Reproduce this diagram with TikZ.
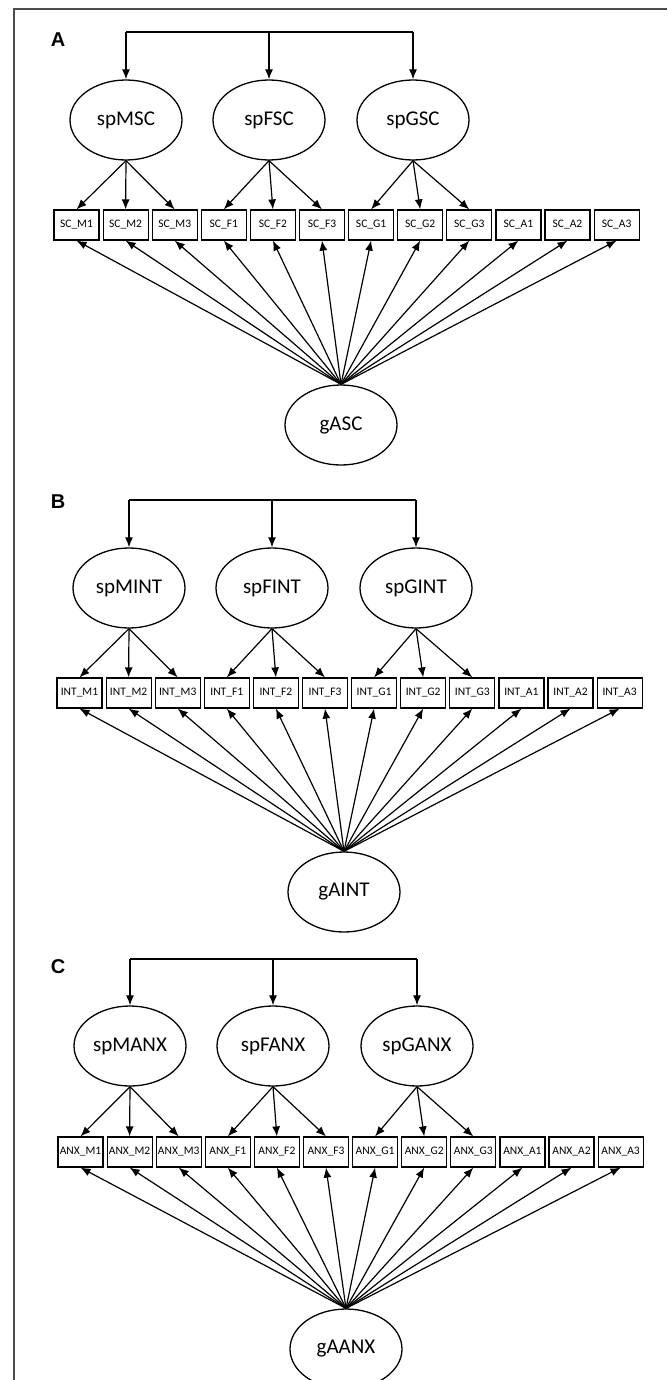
\documentclass[tikz,border=0pt]{standalone}
\usepackage{fontspec}
\newfontfamily\carlito{Carlito}
\newfontfamily\arialfont{Liberation Sans}
\usetikzlibrary{arrows.meta, positioning, shapes}

\tikzset{
  latent/.style={ellipse, draw, line width=1.3pt, minimum width=112pt, minimum height=80pt,
                 inner sep=0pt, font=\carlito\fontsize{21}{21}\selectfont},
  obs/.style={rectangle, draw, line width=1.2pt, minimum width=45pt, minimum height=30pt,
              inner sep=0pt, font=\carlito\fontsize{11.5}{11.5}\selectfont},
  panel/.style={font=\arialfont\bfseries\fontsize{20}{20}\selectfont},
}

\begin{document}
\begin{tikzpicture}[x=1pt, y=-1pt, ->, >={Latex[length=10pt,width=8pt]}, line width=1.2pt,
                    node distance=2.9pt]

   \useasboundingbox (0,0) rectangle (667,1380);
   \draw[-, line width=2pt, black!70] (14,1380) -- (14,9) -- (667,9);

   % ---------------- A ----------------
   % Nodes
      \node[panel]  (labA)  at (58,40)    {A};
      \coordinate   (topA)  at (269,32);
      \node[latent] (spMSC) at (126,120)  {spMSC};
      \node[latent] (spFSC) at (269,120)  {spFSC};
      \node[latent] (spGSC) at (413,120)  {spGSC};
      \node[obs]    (SC_M1) at (76.5,225) {SC\_M1};
      \node[obs, right=of SC_M1] (SC_M2) {SC\_M2};
      \node[obs, right=of SC_M2] (SC_M3) {SC\_M3};
      \node[obs, right=of SC_M3] (SC_F1) {SC\_F1};
      \node[obs, right=of SC_F1] (SC_F2) {SC\_F2};
      \node[obs, right=of SC_F2] (SC_F3) {SC\_F3};
      \node[obs, right=of SC_F3] (SC_G1) {SC\_G1};
      \node[obs, right=of SC_G1] (SC_G2) {SC\_G2};
      \node[obs, right=of SC_G2] (SC_G3) {SC\_G3};
      \node[obs, right=of SC_G3] (SC_A1) {SC\_A1};
      \node[obs, right=of SC_A1] (SC_A2) {SC\_A2};
      \node[obs, right=of SC_A2] (SC_A3) {SC\_A3};
      \node[latent] (gASC)  at (341,425)  {gASC};

   % Paths
      \draw[-] (spMSC.north |- topA) -- (spGSC.north |- topA);
      \path (spMSC.north |- topA) edge (spMSC.north);
      \path (topA) edge (spFSC.north);
      \path (spGSC.north |- topA) edge (spGSC.north);
      \path (spMSC.south) edge (SC_M1.north) edge (SC_M2.north) edge (SC_M3.north);
      \path (spFSC.south) edge (SC_F1.north) edge (SC_F2.north) edge (SC_F3.north);
      \path (spGSC.south) edge (SC_G1.north) edge (SC_G2.north) edge (SC_G3.north);
      \path (gASC.north) edge (SC_M1.south) edge (SC_M2.south) edge (SC_M3.south)
                         edge (SC_F1.south) edge (SC_F2.south) edge (SC_F3.south)
                         edge (SC_G1.south) edge (SC_G2.south) edge (SC_G3.south)
                         edge (SC_A1.south) edge (SC_A2.south) edge (SC_A3.south);

   % ---------------- B ----------------
   % Nodes
      \node[panel]  (labB)   at (58,502)   {B};
      \coordinate   (topB)   at (272,500);
      \node[latent] (spMINT) at (129,588)  {spMINT};
      \node[latent] (spFINT) at (272,588)  {spFINT};
      \node[latent] (spGINT) at (416,588)  {spGINT};
      \node[obs]    (INT_M1) at (79.5,693) {INT\_M1};
      \node[obs, right=of INT_M1] (INT_M2) {INT\_M2};
      \node[obs, right=of INT_M2] (INT_M3) {INT\_M3};
      \node[obs, right=of INT_M3] (INT_F1) {INT\_F1};
      \node[obs, right=of INT_F1] (INT_F2) {INT\_F2};
      \node[obs, right=of INT_F2] (INT_F3) {INT\_F3};
      \node[obs, right=of INT_F3] (INT_G1) {INT\_G1};
      \node[obs, right=of INT_G1] (INT_G2) {INT\_G2};
      \node[obs, right=of INT_G2] (INT_G3) {INT\_G3};
      \node[obs, right=of INT_G3] (INT_A1) {INT\_A1};
      \node[obs, right=of INT_A1] (INT_A2) {INT\_A2};
      \node[obs, right=of INT_A2] (INT_A3) {INT\_A3};
      \node[latent] (gAINT)  at (344,892)  {gAINT};

   % Paths
      \draw[-] (spMINT.north |- topB) -- (spGINT.north |- topB);
      \path (spMINT.north |- topB) edge (spMINT.north);
      \path (topB) edge (spFINT.north);
      \path (spGINT.north |- topB) edge (spGINT.north);
      \path (spMINT.south) edge (INT_M1.north) edge (INT_M2.north) edge (INT_M3.north);
      \path (spFINT.south) edge (INT_F1.north) edge (INT_F2.north) edge (INT_F3.north);
      \path (spGINT.south) edge (INT_G1.north) edge (INT_G2.north) edge (INT_G3.north);
      \path (gAINT.north) edge (INT_M1.south) edge (INT_M2.south) edge (INT_M3.south)
                          edge (INT_F1.south) edge (INT_F2.south) edge (INT_F3.south)
                          edge (INT_G1.south) edge (INT_G2.south) edge (INT_G3.south)
                          edge (INT_A1.south) edge (INT_A2.south) edge (INT_A3.south);

   % ---------------- C ----------------
   % Nodes
      \node[panel]  (labC)   at (58,967)    {C};
      \coordinate   (topC)   at (273,959);
      \node[latent] (spMANX) at (130,1046)  {spMANX};
      \node[latent] (spFANX) at (273,1046)  {spFANX};
      \node[latent] (spGANX) at (417,1046)  {spGANX};
      \node[obs]    (ANX_M1) at (80.5,1152) {ANX\_M1};
      \node[obs, right=of ANX_M1] (ANX_M2) {ANX\_M2};
      \node[obs, right=of ANX_M2] (ANX_M3) {ANX\_M3};
      \node[obs, right=of ANX_M3] (ANX_F1) {ANX\_F1};
      \node[obs, right=of ANX_F1] (ANX_F2) {ANX\_F2};
      \node[obs, right=of ANX_F2] (ANX_F3) {ANX\_F3};
      \node[obs, right=of ANX_F3] (ANX_G1) {ANX\_G1};
      \node[obs, right=of ANX_G1] (ANX_G2) {ANX\_G2};
      \node[obs, right=of ANX_G2] (ANX_G3) {ANX\_G3};
      \node[obs, right=of ANX_G3] (ANX_A1) {ANX\_A1};
      \node[obs, right=of ANX_A1] (ANX_A2) {ANX\_A2};
      \node[obs, right=of ANX_A2] (ANX_A3) {ANX\_A3};
      \node[latent] (gAANX)  at (346,1349)  {gAANX};

   % Paths
      \draw[-] (spMANX.north |- topC) -- (spGANX.north |- topC);
      \path (spMANX.north |- topC) edge (spMANX.north);
      \path (topC) edge (spFANX.north);
      \path (spGANX.north |- topC) edge (spGANX.north);
      \path (spMANX.south) edge (ANX_M1.north) edge (ANX_M2.north) edge (ANX_M3.north);
      \path (spFANX.south) edge (ANX_F1.north) edge (ANX_F2.north) edge (ANX_F3.north);
      \path (spGANX.south) edge (ANX_G1.north) edge (ANX_G2.north) edge (ANX_G3.north);
      \path (gAANX.north) edge (ANX_M1.south) edge (ANX_M2.south) edge (ANX_M3.south)
                          edge (ANX_F1.south) edge (ANX_F2.south) edge (ANX_F3.south)
                          edge (ANX_G1.south) edge (ANX_G2.south) edge (ANX_G3.south)
                          edge (ANX_A1.south) edge (ANX_A2.south) edge (ANX_A3.south);
\end{tikzpicture}
\end{document}
